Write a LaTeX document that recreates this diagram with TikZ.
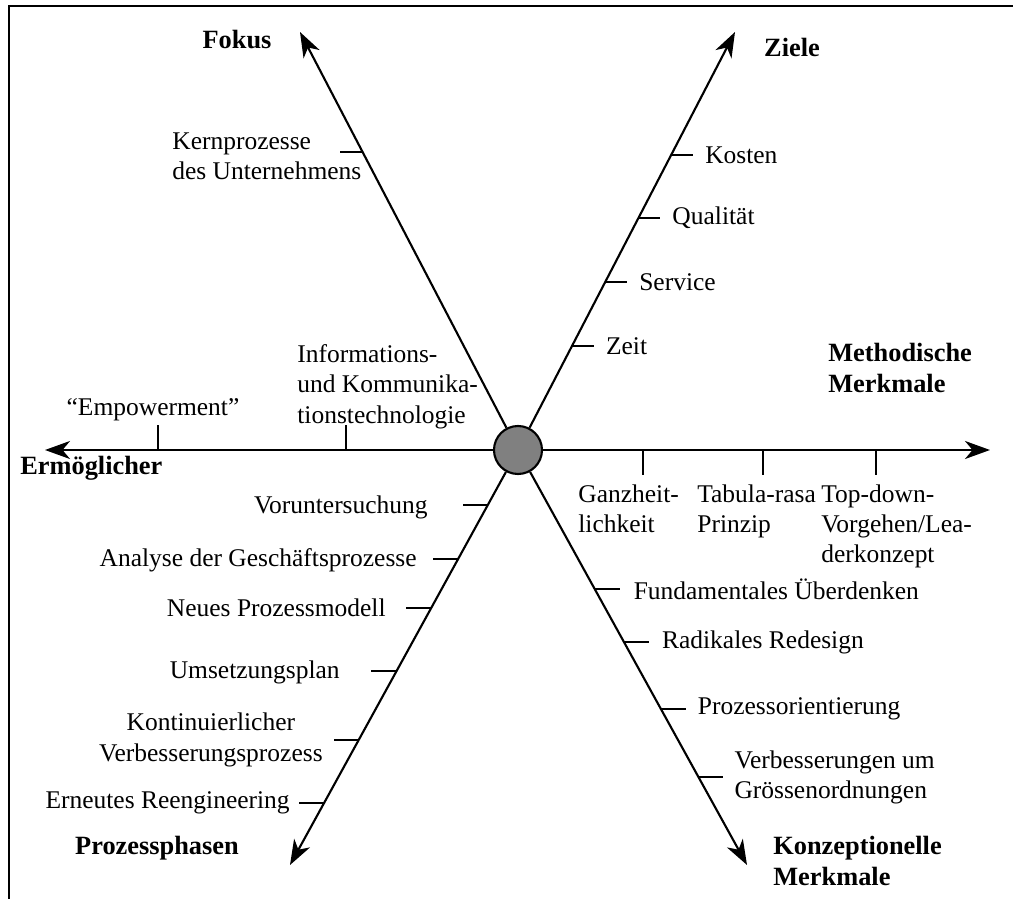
\documentclass[tikz,border=0pt]{standalone}
\usepackage{fontspec}
\setmainfont{Liberation Serif}
\usetikzlibrary{arrows.meta,calc,positioning}

\begin{document}
\begin{tikzpicture}[x=0.2mm,y=-0.2mm,
    every node/.style={inner sep=0pt,font=\fontsize{14.5}{17.2}\selectfont},
    axis/.style={line width=1.2pt,-{Stealth[length=5mm,width=3.6mm,inset=1.5mm]}},
    tick/.style={line width=1.2pt},
    head/.style={font=\fontsize{15}{17.5}\selectfont\bfseries,align=left}]
    \useasboundingbox (0,0) rectangle (1013,899);
    \draw[line width=1.2pt] (1013,6) -- (9,6) -- (9,899);
    % axis ends
    \coordinate (fk) at (300,32);
    \coordinate (zl) at (735,32);
    \coordinate (er) at (45,450);
    \coordinate (me) at (990,450);
    \coordinate (pp) at (290,865);
    \coordinate (kk) at (747,865);
    \node[circle,draw,line width=1.2pt,fill=gray,minimum size=9.6mm] (c) at (518,450) {};
    \draw[axis] (c) -- (fk);
    \draw[axis] (c) -- (zl);
    \draw[axis] (c) -- (er);
    \draw[axis] (c) -- (me);
    \draw[axis] (c) -- (pp);
    \draw[axis] (c) -- (kk);
    % headings
    \node[head] (hfk) at (237,40) {Fokus};
    \node[head] (hzl) at (792,47) {Ziele};
    \node[head,anchor=west] (hme) at (828,368) {Methodische\\Merkmale};
    \node[head,anchor=west] (her) at (20,468) {Ermöglicher};
    \node[head] (hpp) at (157,848) {Prozessphasen};
    \node[head,anchor=west] (hkk) at (773,861) {Konzeptionelle\\Merkmale};
    % Ziele
    \draw[tick] ($(c)!0.706!(zl)$) -- ++(22,0) node[right=2.2mm] (kos) {Kosten};
    \draw[tick] ($(c)!0.555!(zl)$) -- ++(22,0) node[right=2.2mm] (qua) {Qualität};
    \draw[tick] ($(c)!0.402!(zl)$) -- ++(22,0) node[right=2.2mm] (ser) {Service};
    \draw[tick] ($(c)!0.249!(zl)$) -- ++(22,0) node[right=2.2mm] (zei) {Zeit};
    % Fokus
    \draw[tick] ($(c)!0.713!(fk)$) -- ++(-23,0);
    \node[anchor=west,align=left] (kern) at (172,156) {Kernprozesse\\des Unternehmens};
    % Ermoeglicher
    \draw[tick] (158,450) -- ++(0,-25);
    \draw[tick] (346,450) -- ++(0,-25);
    \node[anchor=south] (emp) at (153,421) {“Empowerment”};
    \node[anchor=south west,align=left] (iuk) at (297,429) {Informations-\\und Kommunika-\\tionstechnologie};
    % Methodische Merkmale
    \draw[tick] (643,450) -- ++(0,25);
    \draw[tick] (763,450) -- ++(0,25);
    \draw[tick] (876,450) -- ++(0,25);
    \node[anchor=north west,align=left] (ganz) at (578,484) {Ganzheit-\\lichkeit};
    \node[anchor=north west,align=left] (tab) at (697,484) {Tabula-rasa\\Prinzip};
    \node[anchor=north west,align=left] (top) at (821,484) {Top-down-\\Vorgehen/Lea-\\derkonzept};
    % Prozessphasen
    \draw[tick] ($(c)!0.1325!(pp)$) -- ++(-25,0);
    \draw[tick] ($(c)!0.263!(pp)$) -- ++(-25,0);
    \draw[tick] ($(c)!0.381!(pp)$) -- ++(-25,0);
    \draw[tick] ($(c)!0.533!(pp)$) -- ++(-25,0);
    \draw[tick] ($(c)!0.699!(pp)$) -- ++(-25,0);
    \draw[tick] ($(c)!0.851!(pp)$) -- ++(-25,0);
    \node[anchor=east] (vor) at (428,507) {Voruntersuchung};
    \node[anchor=east] (ana) at (417,560) {Analyse der Geschäftsprozesse};
    \node[anchor=east] (neu) at (386,608) {Neues Prozessmodell};
    \node[anchor=east] (ums) at (340,672) {Umsetzungsplan};
    \node[anchor=east,align=center] (kon) at (323,740) {Kontinuierlicher\\Verbesserungsprozess};
    \node[anchor=east] (ern) at (290,803) {Erneutes Reengineering};
    % Konzeptionelle Merkmale
    \draw[tick] ($(c)!0.335!(kk)$) -- ++(25,0) node[right=2.6mm] (fun) {Fundamentales Überdenken};
    \draw[tick] ($(c)!0.463!(kk)$) -- ++(25,0) node[right=2.4mm] (rad) {Radikales Redesign};
    \draw[tick] ($(c)!0.624!(kk)$) -- ++(25,0) node[right=2.2mm] (pro) {Prozessorientierung};
    \draw[tick] ($(c)!0.788!(kk)$) -- ++(25,0) node[right=2mm,align=left] (ver) {Verbesserungen um\\Grössenordnungen};
\end{tikzpicture}
\end{document}
